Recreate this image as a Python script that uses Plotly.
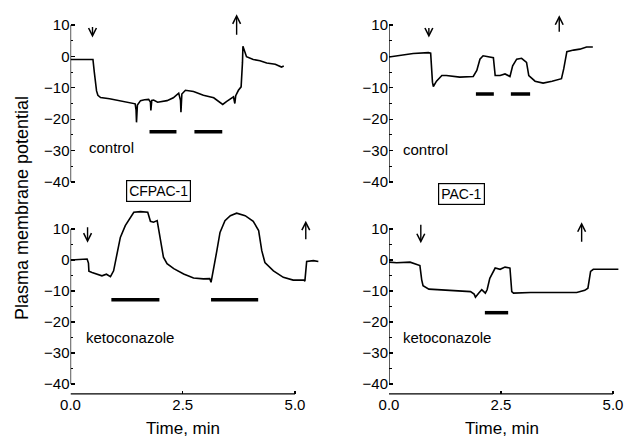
import plotly.graph_objects as go

# ---------------- data ----------------
# CFPAC-1, control
cf_ctrl_t = [0.0, 0.25, 0.50, 0.53, 0.58, 0.61, 0.67, 0.87, 1.05, 1.26, 1.44, 1.46, 1.47, 1.49,
             1.56, 1.65, 1.74, 1.78, 1.79, 1.81, 1.85, 1.94, 2.05, 2.15, 2.29, 2.41, 2.45, 2.46,
             2.48, 2.56, 2.74, 2.96, 3.19, 3.39, 3.48, 3.63, 3.66, 3.68, 3.74, 3.80, 3.83, 3.84,
             3.92, 4.07, 4.22, 4.37, 4.56, 4.70, 4.75]
cf_ctrl_v = [-1.0, -0.9, -1.0, -5.0, -11.0, -12.4, -13.1, -13.5, -14.0, -14.6, -15.1, -17.0, -21.0, -15.5,
             -14.1, -13.8, -13.7, -14.5, -17.2, -14.0, -13.9, -14.6, -14.3, -14.1, -13.2, -11.7, -14.0, -17.8,
             -12.0, -10.8, -11.2, -12.4, -13.2, -15.3, -14.3, -12.9, -15.0, -12.5, -10.8, -9.7, -2.0, 3.2,
             -0.1, -1.0, -1.4, -2.1, -2.5, -3.4, -3.1]

# PAC-1, control
pac_ctrl_t = [0.0, 0.25, 0.54, 0.88, 0.93, 0.97, 0.99, 1.06, 1.18, 1.28, 1.58, 1.88, 1.96, 2.03,
              2.10, 2.33, 2.37, 2.48, 2.59, 2.70, 2.76, 2.85, 2.96, 3.07, 3.12, 3.26, 3.44, 3.64,
              3.85, 3.90, 3.97, 4.12, 4.26, 4.41, 4.55]
pac_ctrl_v = [-0.2, 0.3, 0.9, 1.2, 1.0, -8.2, -9.6, -7.9, -6.1, -6.1, -6.6, -6.4, -4.5, -0.9,
              0.2, -0.4, -6.1, -6.1, -5.6, -6.4, -3.0, -0.9, -0.6, -1.9, -6.1, -7.9, -8.5, -7.9,
              -7.1, -4.0, 1.5, 2.0, 2.3, 3.0, 3.0]

# CFPAC-1, ketoconazole
cf_keto_t = [0.0, 0.37, 0.40, 0.41, 0.48, 0.59, 0.70, 0.80, 0.89, 0.96, 1.04, 1.11, 1.22, 1.33,
             1.41, 1.56, 1.72, 1.78, 1.85, 1.93, 2.00, 2.07, 2.15, 2.30, 2.52, 2.74, 2.96, 3.10,
             3.13, 3.18, 3.26, 3.33, 3.44, 3.56, 3.70, 3.89, 4.07, 4.19, 4.26, 4.33, 4.52, 4.74,
             4.96, 5.20, 5.22, 5.26, 5.41, 5.52]
cf_keto_v = [0.0, 0.3, -1.0, -3.6, -4.0, -4.5, -5.1, -4.6, -5.4, -3.5, 3.0, 7.3, 11.1, 13.8,
             15.4, 15.6, 15.4, 12.5, 12.2, 12.7, 6.8, 0.9, -1.2, -2.8, -4.5, -5.8, -6.1, -6.0,
             -7.2, -3.5, 3.0, 8.9, 12.7, 14.3, 15.1, 14.3, 12.5, 9.5, 3.0, -0.8, -3.5, -5.6,
             -6.5, -6.5, -6.8, -0.5, -0.2, -0.5]

# PAC-1, ketoconazole
pac_keto_t = [0.0, 0.17, 0.47, 0.62, 0.69, 0.73, 0.76, 0.89, 1.15, 1.52, 1.82, 1.90, 1.93, 2.00,
              2.07, 2.15, 2.19, 2.25, 2.37, 2.48, 2.59, 2.70, 2.74, 2.78, 3.16, 3.67, 4.19, 4.37,
              4.44, 4.50, 4.56, 4.86, 5.12]
pac_keto_v = [-0.7, -0.9, -0.7, -1.4, -1.8, -6.4, -8.3, -9.4, -9.6, -9.8, -10.2, -11.0, -12.0, -10.7,
              -9.6, -10.7, -9.6, -5.9, -2.6, -3.0, -2.3, -2.6, -10.2, -10.7, -10.5, -10.5, -10.5, -9.8,
              -9.1, -3.7, -3.0, -3.0, -3.0]

# stimulus bars: (start, end) and level
cf_ctrl_bars = [(1.76, 2.36), (2.76, 3.38)]
cf_ctrl_bar_level = -24
pac_ctrl_bars = [(1.94, 2.34), (2.72, 3.15)]
pac_ctrl_bar_level = -12
cf_keto_bars = [(0.91, 1.98), (3.13, 4.18)]
cf_keto_bar_level = -12.8
pac_keto_bars = [(2.14, 2.66)]
pac_keto_bar_level = -17

# arrows: (down time, up time)
cf_ctrl_arrows = (0.49, 3.70)
pac_ctrl_arrows = (0.89, 3.80)
cf_keto_arrows = (0.38, 5.24)
pac_keto_arrows = (0.71, 4.30)

y_ticks = [-40, -30, -20, -10, 0, 10]
y_minor = [-35, -25, -15, -5, 5]
x_ticks = [0, 2.5, 5]
x_ticklabels = ["0.0", "2.5", "5.0"]

# ---------------- figure ----------------
W, H = 624, 438
FONT = "Liberation Sans, Arial, Helvetica, sans-serif"

def px_x(p):
    return p / W

def px_y(p):
    return 1 - p / H

fig = go.Figure()

panels = [
    ("x", "y", cf_ctrl_t, cf_ctrl_v, cf_ctrl_bars, cf_ctrl_bar_level, cf_ctrl_arrows, "control", -29, 0.36, (6.0, -12, 13.4, 22)),
    ("x2", "y2", pac_ctrl_t, pac_ctrl_v, pac_ctrl_bars, pac_ctrl_bar_level, pac_ctrl_arrows, "control", -29.5, 0.27, (6.0, -11, 13.1, 18)),
    ("x3", "y3", cf_keto_t, cf_keto_v, cf_keto_bars, cf_keto_bar_level, cf_keto_arrows, "ketoconazole", -25, 0.29, (5.6, -17, 12.7, 20)),
    ("x4", "y4", pac_keto_t, pac_keto_v, pac_keto_bars, pac_keto_bar_level, pac_keto_arrows, "ketoconazole", -25, 0.27, (5.4, -20, 12.2, 21)),
]

annotations = []
shapes = []
for xa, ya, t, v, bars, lvl, arrows, label, ly, lx, arr in panels:
    fig.add_trace(go.Scatter(x=t, y=v, mode="lines", xaxis=xa, yaxis=ya,
                             line=dict(color="black", width=1.6), showlegend=False,
                             hoverinfo="skip"))
    for (b0, b1) in bars:
        fig.add_trace(go.Scatter(x=[b0, b1], y=[lvl, lvl], mode="lines", xaxis=xa, yaxis=ya,
                                 line=dict(color="black", width=3.5), showlegend=False,
                                 hoverinfo="skip"))
    annotations.append(dict(x=lx, y=ly, xref=xa, yref=ya, text=label, showarrow=False,
                            xanchor="left", yanchor="middle",
                            font=dict(family=FONT, size=15, color="black")))
    dy, day, uy, uay = arr
    annotations.append(dict(x=arrows[0], y=dy, xref=xa, yref=ya, text="", showarrow=True,
                            ax=0, ay=day, arrowhead=5, arrowsize=1.1, arrowwidth=1.4,
                            arrowcolor="black", standoff=0))
    annotations.append(dict(x=arrows[1], y=uy, xref=xa, yref=ya, text="", showarrow=True,
                            ax=0, ay=uay, arrowhead=5, arrowsize=1.1, arrowwidth=1.4,
                            arrowcolor="black", standoff=0))
    # y axis line from -40 to 10
    shapes.append(dict(type="line", xref=xa, yref=ya, x0=0, x1=0, y0=-40, y1=10,
                       line=dict(color="black", width=1.3)))

# bottom x axis lines (0 to 5 min)
for xa, ya in [("x3", "y3"), ("x4", "y4")]:
    shapes.append(dict(type="line", xref=xa, yref=ya + " domain", x0=0, x1=5, y0=0, y1=0,
                       line=dict(color="black", width=1.3)))

# boxed cell-line titles
annotations.append(dict(x=px_x(158), y=px_y(191), xref="paper", yref="paper", text="CFPAC-1",
                        xanchor="center", yanchor="middle",
                        showarrow=False, bordercolor="black", borderwidth=1.2, borderpad=2,
                        font=dict(family=FONT, size=14, color="black")))
annotations.append(dict(x=px_x(461), y=px_y(194), xref="paper", yref="paper", text="PAC-1",
                        xanchor="center", yanchor="middle",
                        showarrow=False, bordercolor="black", borderwidth=1.2, borderpad=2,
                        font=dict(family=FONT, size=14, color="black")))
# axis titles
annotations.append(dict(x=px_x(22), y=px_y(208), xref="paper", yref="paper",
                        xanchor="center", yanchor="middle",
                        text="Plasma membrane potential", textangle=-90, showarrow=False,
                        font=dict(family=FONT, size=18, color="black")))
for cx in (183, 502):
    annotations.append(dict(x=px_x(cx), y=px_y(428), xref="paper", yref="paper",
                            xanchor="center", yanchor="middle",
                            text="Time, min", showarrow=False,
                            font=dict(family=FONT, size=17, color="black")))

yax_common = dict(tickmode="array", tickvals=y_ticks, ticks="inside", ticklen=4,
                  tickwidth=1.2, tickcolor="black", showgrid=False, zeroline=False,
                  showline=False, tickfont=dict(family=FONT, size=15, color="black"),
                  minor=dict(tickmode="array", tickvals=y_minor, ticks="inside", ticklen=2.5,
                             tickwidth=1, tickcolor="black", showgrid=False),
                  automargin=False, ticklabeloverflow="allow", fixedrange=True)
xax_top = dict(showticklabels=False, ticks="", showgrid=False, zeroline=False, showline=False,
               automargin=False, fixedrange=True)
xax_bot = dict(tickmode="array", tickvals=x_ticks, ticktext=x_ticklabels, ticks="inside",
               ticklen=3, tickwidth=1.2, tickcolor="black", showgrid=False, zeroline=False,
               showline=False, tickfont=dict(family=FONT, size=15, color="black"),
               automargin=False, ticklabeloverflow="allow", fixedrange=True)

left_dom = [px_x(70.5), px_x(70.5 + 5.6 * 44.9)]
right_dom = [px_x(389), px_x(389 + 5.15 * 44.8)]
top_dom = [px_y(188.3), px_y(12.4)]
bot_dom = [px_y(393.9), px_y(207.3)]

fig.update_layout(
    template="none",
    width=W, height=H, margin=dict(l=0, r=0, t=0, b=0, autoexpand=False),
    paper_bgcolor="white", plot_bgcolor="white",
    xaxis=dict(domain=left_dom, range=[0, 5.6], anchor="y", **xax_top),
    yaxis=dict(domain=top_dom, range=[-42, 14], anchor="x", **yax_common),
    xaxis2=dict(domain=right_dom, range=[0, 5.15], anchor="y2", **xax_top),
    yaxis2=dict(domain=top_dom, range=[-42, 14], anchor="x2", **yax_common),
    xaxis3=dict(domain=left_dom, range=[0, 5.6], anchor="y3", **xax_bot),
    yaxis3=dict(domain=bot_dom, range=[-43.2, 17], anchor="x3", **yax_common),
    xaxis4=dict(domain=right_dom, range=[0, 5.15], anchor="y4", **xax_bot),
    yaxis4=dict(domain=bot_dom, range=[-43.2, 17], anchor="x4", **yax_common),
    annotations=annotations, shapes=shapes,
)

fig.write_html("out.html", config={"displayModeBar": False, "staticPlot": True},
               post_script="document.body.style.margin='0px';document.body.style.overflow='hidden';")
